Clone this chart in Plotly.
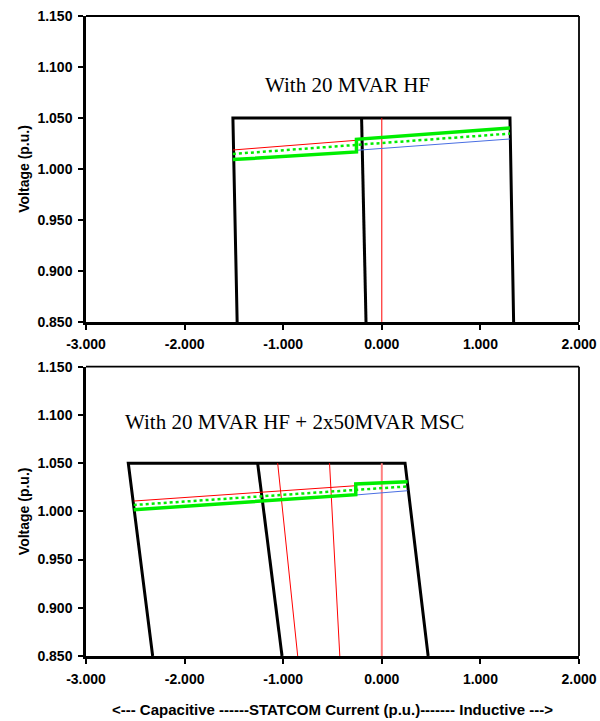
import plotly.graph_objects as go
from plotly.subplots import make_subplots

# ---------------- data: top panel (With 20 MVAR HF) ----------------
top_limit_x = [-1.467, -1.51, 1.30, 1.337]
top_limit_y = [0.850, 1.050, 1.050, 0.850]
top_mid_x = [-0.205, -0.160]
top_mid_y = [1.050, 0.850]
top_vert_x = [0.0, 0.0]
top_vert_y = [1.050, 0.850]
top_red_x = [-1.51, -0.257]
top_red_y = [1.0186, 1.0281]
top_blue_x = [-0.257, 1.30]
top_blue_y = [1.0183, 1.0294]
top_green_x = [-1.51, -0.257, -0.257, 1.30]
top_green_y = [1.0092, 1.0167, 1.0291, 1.0402]
top_dot_x = [-1.51, 1.30]
top_dot_y = [1.0147, 1.0347]

# ---------------- data: bottom panel (With 20 MVAR HF + 2x50MVAR MSC) ----------------
bot_limit_x = [-2.324, -2.571, 0.236, 0.470]
bot_limit_y = [0.850, 1.050, 1.050, 0.850]
bot_mid_x = [-1.259, -1.012]
bot_mid_y = [1.050, 0.850]
bot_red1_x = [-1.056, -0.853]
bot_red2_x = [-0.530, -0.426]
bot_red_vy = [1.050, 0.850]
bot_vert_x = [0.0, 0.0]
bot_red_x = [-2.516, -0.264]
bot_red_y = [1.0107, 1.0266]
bot_blue_x = [-0.264, 0.260]
bot_blue_y = [1.0170, 1.0214]
bot_green_x = [-2.516, -0.264, -0.264, 0.261]
bot_green_y = [1.0017, 1.0173, 1.0284, 1.0307]
bot_dot_x = [-2.516, 0.260]
bot_dot_y = [1.0066, 1.0259]

x_ticks = [-3, -2, -1, 0, 1, 2]
x_tick_labels = ["-3.000", "-2.000", "-1.000", "0.000", "1.000", "2.000"]
y_ticks = [0.85, 0.90, 0.95, 1.00, 1.05, 1.10, 1.15]
y_tick_labels = ["0.850", "0.900", "0.950", "1.000", "1.050", "1.100", "1.150"]

titles = ["With 20 MVAR HF", "With 20 MVAR HF + 2x50MVAR MSC"]
title_pos = [(-0.35, 1.082), (-0.882, 1.093)]

fig = make_subplots(rows=2, cols=1, vertical_spacing=0.07)

BLACK = "#000000"
RED = "#ff0000"
BLUE = "#4a6fe3"
GREEN = "#00ee00"


def add(x, y, color, width, row, dash="solid"):
    fig.add_trace(go.Scatter(x=x, y=y, mode="lines",
                             line=dict(color=color, width=width, dash=dash),
                             showlegend=False, hoverinfo="skip"), row=row, col=1)


# top panel
add(top_limit_x, top_limit_y, BLACK, 3, 1)
add(top_mid_x, top_mid_y, BLACK, 3, 1)
add(top_vert_x, top_vert_y, RED, 1, 1)
add(top_red_x, top_red_y, RED, 1, 1)
add(top_blue_x, top_blue_y, BLUE, 1, 1)
add(top_dot_x, top_dot_y, GREEN, 2.5, 1, dash="dot")
add(top_green_x, top_green_y, GREEN, 3.5, 1)

# bottom panel
add(bot_limit_x, bot_limit_y, BLACK, 3, 2)
add(bot_mid_x, bot_mid_y, BLACK, 3, 2)
add(bot_red1_x, bot_red_vy, RED, 1, 2)
add(bot_red2_x, bot_red_vy, RED, 1, 2)
add(bot_vert_x, bot_red_vy, "#ff7f7f", 2, 2)
add(bot_red_x, bot_red_y, RED, 1, 2)
add(bot_blue_x, bot_blue_y, BLUE, 1, 2)
add(bot_dot_x, bot_dot_y, GREEN, 2.5, 2, dash="dot")
add(bot_green_x, bot_green_y, GREEN, 3.5, 2)

tick_font = dict(family="Liberation Sans, Arial", size=14, color="black")
title_font = dict(family="Liberation Sans, Arial", size=14, color="black")

for r in (1, 2):
    fig.update_xaxes(range=[-3, 2], tickvals=x_ticks,
                     ticktext=["<b>%s</b>" % t for t in x_tick_labels],
                     showgrid=False, zeroline=False, showline=True, automargin=False,
                     linecolor="black", linewidth=2.5, ticks="outside",
                     ticklen=5, tickwidth=2, tickcolor="black", ticklabelstandoff=3,
                     tickfont=tick_font, row=r, col=1)
    fig.update_yaxes(range=[0.85, 1.15], tickvals=y_ticks,
                     ticktext=["<b>%s</b>" % t for t in y_tick_labels],
                     showgrid=False, zeroline=False, showline=True, automargin=False,
                     linecolor="black", linewidth=2.5, ticks="outside",
                     ticklen=5, tickwidth=2, tickcolor="black", ticklabelstandoff=3,
                     tickfont=tick_font,
                     title=dict(text="<b>Voltage (p.u.)</b>", font=title_font, standoff=5),
                     row=r, col=1)

fig.update_xaxes(title=dict(text="<b><--- Capacitive ------STATCOM Current (p.u.)------- Inductive ---></b>",
                            font=dict(family="Liberation Sans, Arial", size=15, color="black"),
                            standoff=19), row=2, col=1)

fig.update_layout(
    width=600, height=721,
    margin=dict(l=86, r=21, t=16, b=65),
    paper_bgcolor="white", plot_bgcolor="white",
    font=dict(family="Liberation Sans, Arial"),
    yaxis=dict(domain=[0.522, 1.0]),
    yaxis2=dict(domain=[0.0, 0.452]),
)

# top & right frame lines
for xd, yd in (("x domain", "y domain"), ("x2 domain", "y2 domain")):
    fig.add_shape(type="line", xref=xd, yref=yd, x0=0, x1=1, y0=1, y1=1,
                  line=dict(color="black", width=1.8))
    fig.add_shape(type="line", xref=xd, yref=yd, x0=1, x1=1, y0=0, y1=1,
                  line=dict(color="black", width=1.8))

for i, (txt, (tx, ty)) in enumerate(zip(titles, title_pos)):
    fig.add_annotation(x=tx, y=ty, xref="x" if i == 0 else "x2",
                       yref="y" if i == 0 else "y2", text=txt, showarrow=False,
                       font=dict(family="Liberation Serif, Times New Roman", size=21, color="black"))

# remove the browser's default 8px body margin so the 600x721 figure fills the window
fig.write_html("out.html", config={"displayModeBar": False},
               post_script="document.body.style.margin='0';document.body.style.overflow='hidden';")
